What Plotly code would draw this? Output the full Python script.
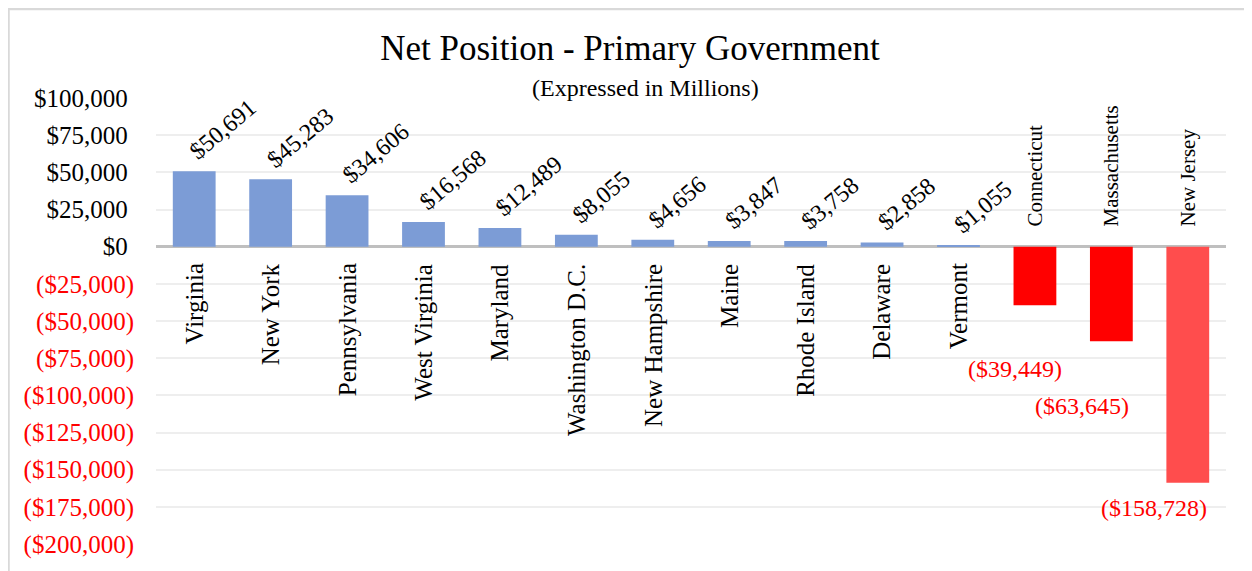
import plotly.graph_objects as go

# ---- data ----
categories = ["Virginia", "New York", "Pennsylvania", "West Virginia", "Maryland",
              "Washington D.C.", "New Hampshire", "Maine", "Rhode Island", "Delaware",
              "Vermont", "Connecticut", "Massachusetts", "New Jersey"]
values = [50691, 45283, 34606, 16568, 12489, 8055, 4656, 3847, 3758, 2858, 1055,
          -39449, -63645, -158728]
tick_values = [100000, 75000, 50000, 25000, 0, -25000, -50000, -75000, -100000,
               -125000, -150000, -175000, -200000]

# ---- style ----
FONT = "Liberation Serif"
BLUE = "#7C9CD6"
bar_colors = [BLUE] * 11 + ["#FF0000", "#FF0000", "#FF4D4D"]
# pixel offsets of the negative value labels (manually placed in the original)
neg_label_shift = {"Connecticut": (-20, -64), "Massachusetts": (-29, -65), "New Jersey": (-34, -25)}

# the page body adds an 8px margin, so the figure is 8px smaller on each axis
W, H = 1244, 563
L, R, T, B = 148, 26, 90, 24
pw, ph = W - L - R, H - T - B


def px_to_paper_x(px):
    return (px - L) / pw


def px_to_paper_y(py):
    return (H - B - py) / ph


def money(v):
    return f"${v:,}" if v >= 0 else f"(${-v:,})"


ticktext = []
for t in tick_values:
    if t >= 0:
        ticktext.append(money(t) + "\u00a0")
    else:
        ticktext.append(f'<span style="color:#FF0000">{money(t)}</span>')

fig = go.Figure()
fig.add_trace(go.Bar(x=categories, y=values, marker=dict(color=bar_colors, line=dict(width=0)),
                     hoverinfo="x+y"))

annotations = []
for c, v in zip(categories, values):
    if v >= 0:
        annotations.append(dict(x=c, y=v, xref="x", yref="y", text=money(v), showarrow=False,
                                textangle=-40, xanchor="left", yanchor="bottom",
                                xshift=-12, yshift=4,
                                font=dict(family=FONT, size=24, color="black")))
        annotations.append(dict(x=c, y=0, xref="x", yref="y", text=c, showarrow=False,
                                textangle=-90, xanchor="center", yanchor="top", yshift=-15,
                                font=dict(family=FONT, size=25, color="black")))
    else:
        dx, dy = neg_label_shift[c]
        annotations.append(dict(x=c, y=v, xref="x", yref="y", text=money(v), showarrow=False,
                                xanchor="center", yanchor="middle", xshift=dx, yshift=dy,
                                font=dict(family=FONT, size=24, color="#FF0000")))
        annotations.append(dict(x=c, y=0, xref="x", yref="y", text=c, showarrow=False,
                                textangle=-90, xanchor="center", yanchor="bottom", yshift=18,
                                font=dict(family=FONT, size=21, color="black")))

annotations.append(dict(x=px_to_paper_x(637), y=px_to_paper_y(80), xref="paper", yref="paper",
                        text="(Expressed in Millions)", showarrow=False,
                        xanchor="center", yanchor="middle",
                        font=dict(family=FONT, size=24, color="black")))

fig.update_layout(
    width=W, height=H,
    margin=dict(l=L, r=R, t=T, b=B),
    paper_bgcolor="white", plot_bgcolor="white",
    title=dict(text="Net Position - Primary Government", x=0.5, xref="container", xanchor="center",
               y=1 - 40 / H, yref="container", yanchor="middle",
               font=dict(family=FONT, size=35, color="black")),
    font=dict(family=FONT, size=25, color="black"),
    bargap=0.44,
    showlegend=False,
    xaxis=dict(showticklabels=False, showgrid=False, zeroline=False, showline=False, ticks=""),
    yaxis=dict(range=[-200000, 100000], tickvals=tick_values, ticktext=ticktext,
               showgrid=True, gridcolor="#EEEEEE", gridwidth=2,
               zeroline=True, zerolinecolor="#BFBFBF", zerolinewidth=3,
               showline=False, ticks="", ticklabelstandoff=21,
               tickfont=dict(family=FONT, size=25, color="black")),
    annotations=annotations,
    shapes=[dict(type="rect", xref="paper", yref="paper",
                 x0=px_to_paper_x(0.5), x1=px_to_paper_x(W + 20),
                 y0=px_to_paper_y(H + 20), y1=px_to_paper_y(0.5),
                 line=dict(color="#D9D9D9", width=2.5), fillcolor="rgba(0,0,0,0)", layer="below")],
)

fig.write_html("out.html")
